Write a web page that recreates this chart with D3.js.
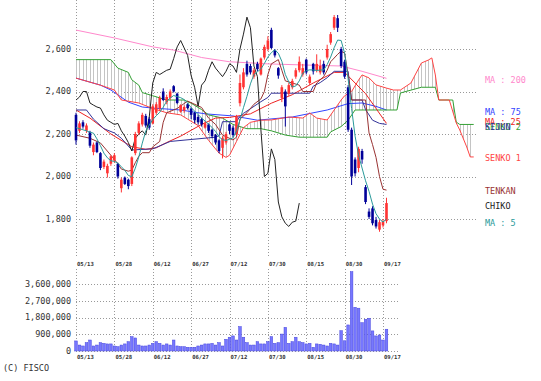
<!DOCTYPE html>
<html lang="ja">
<head>
<meta charset="UTF-8">
<title>Ichimoku chart</title>
<script src="https://d3js.org/d3.v7.min.js"></script>
<style>
  body, html { margin: 0; padding: 0; background: #fff; overflow: hidden; }
  svg { display: block; }
  text { font-family: "DejaVu Sans Mono", monospace; fill: #333; }
</style>
</head>
<body>
<svg width="541" height="381"></svg>
<script>
// date labels, one every 11 bars
const dateLabels = ["05/13", "05/28", "06/12", "06/27", "07/12", "07/30", "08/15", "08/30", "09/17"];
const priceTicks = [1800, 2000, 2200, 2400, 2600];
const volumeTicks = [0, 900000, 1800000, 2700000, 3600000];

// [open, high, low, close] per trading day
const ohlc = [
  [2290,2300,2150,2170],[2215,2260,2205,2250],[2255,2265,2225,2235],[2215,2250,2205,2240],[2210,2215,2135,2145],
  [2115,2160,2100,2150],[2160,2165,2110,2115],[2110,2115,2030,2040],[2045,2080,2035,2070],[2015,2060,1995,2050],
  [2060,2100,2050,2095],[2075,2110,2065,2100],[2060,2065,1990,2000],[1945,1995,1925,1985],[1995,2000,1960,1965],
  [1985,1990,1940,1955],[1965,2095,1955,2090],[2110,2210,2100,2200],[2205,2260,2195,2250],[2245,2300,2235,2290],
  [2285,2295,2230,2240],[2270,2280,2220,2230],[2250,2340,2245,2330],[2300,2350,2290,2340],[2320,2380,2310,2370],
  [2400,2415,2355,2360],[2350,2385,2340,2374],[2370,2410,2360,2400],[2425,2430,2395,2400],[2390,2395,2340,2346],
  [2305,2340,2300,2336],[2310,2335,2300,2327],[2340,2345,2315,2322],[2320,2325,2270,2290],[2300,2305,2250,2265],
  [2280,2290,2245,2255],[2270,2275,2235,2245],[2230,2260,2225,2250],[2245,2250,2205,2215],[2220,2225,2180,2190],
  [2195,2200,2150,2160],[2170,2175,2110,2120],[2135,2190,2085,2180],[2160,2210,2150,2200],[2245,2250,2200,2215],
  [2230,2240,2185,2195],[2200,2290,2190,2280],[2345,2480,2330,2440],[2420,2510,2410,2490],[2530,2545,2470,2480],
  [2520,2530,2480,2490],[2470,2510,2460,2500],[2530,2540,2495,2505],[2480,2560,2475,2555],[2560,2620,2550,2610],
  [2600,2660,2590,2640],[2690,2700,2600,2605],[2595,2600,2560,2570],[2510,2515,2460,2475],[2370,2430,2350,2420],
  [2400,2410,2235,2330],[2390,2440,2380,2430],[2420,2460,2410,2450],[2470,2510,2460,2500],[2500,2565,2490,2540],
  [2480,2530,2470,2510],[2550,2555,2480,2490],[2440,2480,2430,2470],[2530,2535,2480,2495],[2500,2575,2490,2530],
  [2490,2550,2480,2520],[2530,2545,2480,2490],[2560,2620,2550,2600],[2630,2680,2620,2670],[2700,2760,2690,2750],
  [2745,2760,2680,2700],[2600,2610,2510,2520],[2540,2550,2460,2470],[2420,2430,2210,2220],[2220,2230,1960,2000],
  [2080,2090,2000,2015],[2040,2140,2020,2130],[2120,2130,2060,2080],[1950,1960,1870,1880],[1835,1850,1800,1810],
  [1850,1860,1770,1780],[1795,1810,1755,1765],[1750,1795,1740,1785],[1770,1800,1760,1790],[1790,1900,1780,1875]
];

const volume = [
  540000,320000,270000,450000,590000,270000,320000,450000,410000,380000,
  380000,270000,230000,320000,380000,500000,770000,700000,320000,270000,
  270000,320000,410000,500000,410000,320000,380000,320000,590000,270000,
  230000,230000,200000,200000,200000,270000,320000,380000,380000,410000,
  320000,450000,270000,630000,740000,810000,590000,1310000,740000,450000,
  320000,320000,500000,380000,380000,500000,770000,410000,450000,910000,
  1270000,410000,500000,740000,500000,450000,380000,410000,200000,380000,
  360000,320000,270000,410000,380000,320000,1090000,550000,1400000,4260000,
  2350000,2300000,1520000,1700000,1760000,1080000,810000,860000,590000,1170000
];

const ma5 = [
  2230,2225,2220,2215,2208,2204,2177,2145,2110,2088,2074,2071,2063,2046,2029,2005,1999,2039,2092,2157,
  2214,2242,2268,2286,2302,2326,2355,2369,2381,2376,2371,2362,2346,2324,2308,2292,2275,2261,2246,2231,
  2212,2187,2173,2170,2175,2182,2214,2266,2324,2377,2436,2480,2493,2506,2532,2562,2583,2596,2580,2542,
  2480,2445,2421,2426,2450,2486,2498,2502,2501,2499,2501,2501,2527,2562,2606,2642,2640,2580,2460,2320,
  2190,2100,2040,1980,1930,1870,1825,1800,1786,1800
];

// [bar, value] points
const ma25 = [[0,2313],[4,2275],[10,2200],[16,2140],[20,2128],[23,2135],[26,2160],[30,2190],[36,2245],[40,2275],
  [44,2278],[50,2295],[56,2345],[62,2385],[68,2440],[74,2490],[77,2490],[80,2440],[83,2390],[86,2320],[89,2250]];
const ma75 = [[0,2463],[7,2430],[10,2407],[15,2350],[19,2327],[22,2322],[30,2313],[37,2295],[45,2285],[52,2265],
  [62,2280],[72,2313],[78,2343],[82,2346],[86,2330],[89,2313]];
const ma200 = [[0,2689],[11,2652],[22,2610],[28,2595],[36,2560],[44,2540],[55,2530],[65,2525],[76,2520],[82,2495],[89,2462]];
const tenkan = [[0,2195],[4,2180],[7,2158],[10,2100],[12,2060],[13,2035],[15,2025],[16,2030],[17,2065],[18,2095],
  [19,2112],[21,2112],[22,2140],[24,2165],[25,2255],[26,2300],[29,2320],[32,2355],[36,2325],[38,2275],[40,2245],
  [42,2195],[45,2172],[46,2185],[47,2270],[49,2300],[51,2340],[53,2365],[54,2400],[55,2480],[56,2530],[58,2550],
  [59,2500],[60,2450],[64,2430],[65,2400],[68,2400],[69,2440],[71,2470],[72,2500],[73,2540],[75,2575],[76,2590],
  [77,2580],[78,2480],[79,2360],[83,2360],[84,2205],[85,2150],[86,2090],[87,2000],[88,1940],[89,1936]];
const kijun = [[0,2313],[3,2313],[5,2270],[8,2225],[11,2205],[13,2180],[16,2125],[22,2130],[27,2165],[40,2185],
  [41,2192],[42,2258],[46,2258],[47,2283],[48,2297],[53,2352],[55,2372],[56,2392],[67,2392],[68,2425],[70,2442],
  [72,2465],[74,2495],[78,2495],[79,2360],[82,2360],[83,2315],[85,2265],[87,2250],[89,2245]];
const senko1 = [[0,2463],[7,2430],[11,2407],[13,2360],[18,2346],[22,2320],[26,2300],[30,2290],[32,2270],[35,2240],
  [38,2170],[41,2110],[43,2090],[44,2100],[46,2165],[48,2230],[50,2255],[53,2265],[56,2266],[61,2280],[65,2275],
  [67,2299],[69,2275],[72,2266],[74,2313],[76,2360],[77,2380],[79,2400],[81,2454],[82,2478],[84,2464],[86,2431],
  [89,2416],[91,2407],[93,2407],[96,2440],[99,2534],[101,2548],[102,2558],[103,2478],[104,2360],[107,2360],
  [109,2252],[110,2219],[112,2139],[113,2092],[114,2092]];
const senko2 = [[0,2550],[10,2550],[12,2510],[15,2490],[16,2455],[18,2430],[19,2395],[22,2380],[26,2360],[31,2360],
  [33,2345],[36,2315],[38,2290],[42,2275],[45,2245],[49,2225],[53,2225],[56,2215],[60,2195],[64,2185],[72,2185],
  [73,2210],[76,2235],[78,2265],[80,2313],[92,2313],[93,2393],[99,2420],[103,2420],[104,2360],[108,2360],
  [109,2256],[110,2245],[114,2245]];
const chikoShift = 25;

const svg = d3.select("svg");
const x = d3.scaleLinear().domain([0, 88]).range([76, 383]);
const y = d3.scaleLinear().domain([1800, 2600]).range([219, 49]);
const yv = d3.scaleLinear().domain([0, 3600000]).range([351, 284]);
const fmt = d3.format(",");
const tickBars = dateLabels.map((d, i) => i * 11);
const crisp = v => Math.round(v) + 0.5;

// grid
const grid = svg.append("g").attr("stroke", "#999").attr("stroke-dasharray", "1,2").attr("shape-rendering", "crispEdges");
grid.selectAll(".hm").data(priceTicks).enter().append("line")
  .attr("x1", 76).attr("x2", 477).attr("y1", d => crisp(y(d))).attr("y2", d => crisp(y(d)));
grid.selectAll(".vm").data(tickBars).enter().append("line")
  .attr("x1", d => crisp(x(d))).attr("x2", d => crisp(x(d))).attr("y1", 0).attr("y2", 257);
grid.selectAll(".hv").data(volumeTicks).enter().append("line")
  .attr("x1", 76).attr("x2", 400).attr("y1", d => crisp(yv(d))).attr("y2", d => crisp(yv(d)));
grid.selectAll(".vv").data(tickBars).enter().append("line")
  .attr("x1", d => crisp(x(d))).attr("x2", d => crisp(x(d))).attr("y1", 269).attr("y2", 351);

// axis labels
svg.selectAll(".py").data(priceTicks).enter().append("text")
  .attr("x", 71).attr("y", d => y(d)).attr("dy", "0.35em").attr("text-anchor", "end")
  .attr("font-size", 8.5).text(fmt);
svg.selectAll(".vy").data(volumeTicks).enter().append("text")
  .attr("x", 71).attr("y", d => yv(d)).attr("dy", "0.35em").attr("text-anchor", "end")
  .attr("font-size", 8.5).text(fmt);
[264.5, 357].forEach(ly => {
  svg.append("g").selectAll("text").data(dateLabels).enter().append("text")
    .attr("x", (d, i) => x(tickBars[i]) + 1).attr("y", ly).attr("dy", "0.35em")
    .attr("font-size", 5.6).attr("font-weight", "bold").text(d => d);
});
svg.append("text").attr("x", 3).attr("y", 368).attr("dy", "0.35em").attr("font-size", 8.5).text("(C) FISCO");

// cloud hatch: one thin vertical line per bar, clipped to the area between the spans
const cloudPts = senko1.concat(senko2.slice().reverse()).map(d => [x(d[0]), y(d[1])]);
svg.append("defs").append("clipPath").attr("id", "cloud")
  .append("path").attr("d", "M" + cloudPts.join("L") + "Z");
svg.append("g").attr("clip-path", "url(#cloud)").attr("stroke", "#c4c4c4").attr("shape-rendering", "crispEdges")
  .selectAll("line").data(d3.range(0, 115)).enter().append("line")
  .attr("x1", d => crisp(x(d))).attr("x2", d => crisp(x(d))).attr("y1", 0).attr("y2", 257);

// lines
const line = d3.line().x(d => x(d[0])).y(d => y(d[1]));
const series = [
  { pts: ma200, color: "#ff88cc" },
  { pts: ma75, color: "#3344ff" },
  { pts: senko2, color: "#33a033" },
  { pts: senko1, color: "#ff4444" },
  { pts: ma25, color: "#ee2222" },
  { pts: kijun, color: "#333399" },
  { pts: tenkan, color: "#993333" },
  { pts: ohlc.slice(chikoShift).map((d, i) => [i, d[3]]), color: "#222" },
];
series.forEach(s => {
  svg.append("path").attr("d", line(s.pts)).attr("fill", "none").attr("stroke", s.color).attr("stroke-width", 1);
});

// candles
const candles = svg.append("g");
ohlc.forEach((d, i) => {
  const up = d[3] >= d[0];
  const c = up ? "#ff3333" : "#000099";
  const cx = x(i);
  candles.append("line").attr("x1", cx).attr("x2", cx).attr("y1", y(d[1])).attr("y2", y(d[2])).attr("stroke", c);
  const top = y(Math.max(d[0], d[3])), bot = y(Math.min(d[0], d[3]));
  candles.append("rect").attr("x", cx - 1.3).attr("y", top).attr("width", 2.6).attr("height", Math.max(1, bot - top)).attr("fill", c);
});

// ma5 on top
svg.append("path").attr("d", line(ma5.map((v, i) => [i, v]))).attr("fill", "none").attr("stroke", "#2a9a9a");

// volume bars
svg.append("g").selectAll("rect").data(volume).enter().append("rect")
  .attr("x", (d, i) => x(i) - 1.3).attr("y", d => yv(d)).attr("width", 2.6).attr("height", d => 351 - yv(d))
  .attr("fill", "#7777ff").attr("stroke", "#4444dd").attr("stroke-width", 0.5);

// legend
const legend = [
  { t: "MA : 200", y: 80, c: "#ff88cc" },
  { t: "MA : 75", y: 112, c: "#3344ff" },
  { t: "MA : 25", y: 122, c: "#ee2222" },
  { t: "SENKO 2", y: 127.5, c: "#33a033" },
  { t: "KIJUN", y: 127.5, c: "#333399" },
  { t: "SENKO 1", y: 158, c: "#ff4444" },
  { t: "TENKAN", y: 191, c: "#993333" },
  { t: "CHIKO", y: 206, c: "#222" },
  { t: "MA : 5", y: 223, c: "#2a9a9a" },
];
svg.selectAll(".lg").data(legend).enter().append("text")
  .attr("x", 485).attr("y", d => d.y).attr("dy", "0.35em").attr("font-size", 8.5)
  .style("fill", d => d.c).text(d => d.t);
</script>
</body>
</html>
